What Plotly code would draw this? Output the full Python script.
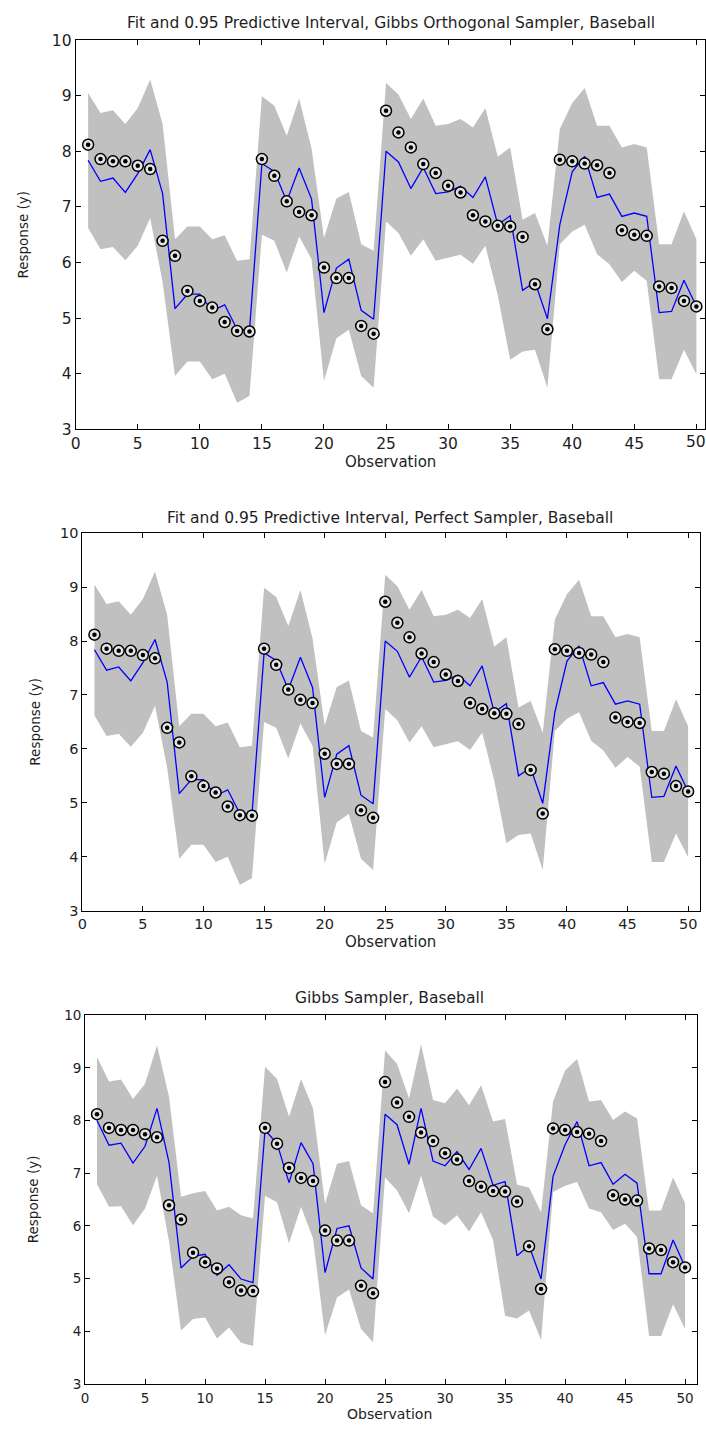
import plotly.graph_objects as go

W, H = 706, 1432

obs = list(range(1, 51))

# observed baseball responses (same data in every panel)
response = [8.12, 7.86, 7.82, 7.82, 7.74, 7.68, 6.39, 6.12, 5.49, 5.31,
            5.19, 4.93, 4.77, 4.76, 7.86, 7.56, 7.10, 6.91, 6.85, 5.91,
            5.72, 5.72, 4.86, 4.72, 8.73, 8.34, 8.07, 7.77, 7.61, 7.38,
            7.26, 6.85, 6.74, 6.66, 6.65, 6.46, 5.61, 4.80, 7.85, 7.82,
            7.78, 7.75, 7.61, 6.58, 6.50, 6.48, 5.57, 5.54, 5.31, 5.21]

# fitted values and 0.95 predictive limits, orthogonal / perfect samplers
fit_orth = [7.84, 7.46, 7.52, 7.26, 7.60, 8.03, 7.24, 5.17, 5.43, 5.43,
            5.13, 5.24, 4.80, 4.78, 7.78, 7.64, 7.10, 7.70, 7.14, 5.10,
            5.90, 6.06, 5.14, 4.98, 8.00, 7.81, 7.33, 7.71, 7.24, 7.27,
            7.37, 7.17, 7.54, 6.68, 6.84, 5.50, 5.65, 4.99, 6.68, 7.63,
            7.91, 7.17, 7.23, 6.83, 6.89, 6.83, 5.10, 5.12, 5.68, 5.21]
upper_orth = [9.05, 8.69, 8.74, 8.49, 8.78, 9.29, 8.49, 6.42, 6.65, 6.65,
              6.42, 6.49, 6.03, 6.06, 8.99, 8.82, 8.28, 8.95, 8.05, 6.44,
              7.15, 7.27, 6.33, 6.21, 9.23, 9.02, 8.58, 8.95, 8.46, 8.49,
              8.58, 8.43, 8.78, 7.90, 8.07, 6.77, 6.89, 6.30, 8.40, 8.87,
              9.14, 8.46, 8.46, 8.07, 8.13, 8.07, 6.33, 6.33, 6.92, 6.42]
lower_orth = [6.62, 6.24, 6.28, 6.04, 6.30, 6.80, 5.65, 3.96, 4.22, 4.22,
              3.90, 4.00, 3.48, 3.60, 6.50, 6.39, 5.82, 6.47, 6.06, 3.87,
              4.64, 4.79, 3.96, 3.75, 6.74, 6.53, 6.12, 6.42, 6.03, 6.08,
              6.14, 5.98, 6.30, 5.41, 4.25, 4.40, 4.43, 3.75, 6.33, 6.56,
              6.68, 6.15, 5.97, 5.65, 5.85, 5.67, 3.90, 3.90, 4.43, 3.99]

# fitted values and 0.95 predictive limits, Gibbs sampler
fit_gibbs = [8.00, 7.53, 7.57, 7.19, 7.51, 8.23, 7.20, 5.20, 5.42, 5.46,
             5.06, 5.26, 4.99, 4.92, 7.82, 7.56, 6.82, 7.58, 7.18, 5.11,
             5.95, 6.00, 5.20, 4.99, 8.12, 7.92, 7.17, 8.23, 7.23, 7.14,
             7.41, 7.07, 7.47, 6.77, 6.84, 5.43, 5.62, 4.99, 6.94, 7.54,
             7.98, 7.14, 7.20, 6.79, 6.98, 6.81, 5.09, 5.09, 5.73, 5.22]
upper_gibbs = [9.20, 8.74, 8.78, 8.41, 8.70, 9.43, 8.45, 6.55, 6.62, 6.66,
               6.29, 6.36, 6.20, 6.14, 9.02, 8.79, 8.07, 8.79, 8.23, 6.42,
               7.18, 7.23, 6.39, 6.24, 9.33, 9.08, 8.42, 9.45, 8.39, 8.33,
               8.61, 8.29, 8.67, 7.98, 8.03, 6.78, 6.73, 6.26, 8.36, 8.95,
               9.17, 8.36, 8.39, 8.01, 8.17, 8.04, 6.29, 6.29, 6.92, 6.43]
lower_gibbs = [6.79, 6.36, 6.37, 6.01, 6.33, 6.95, 5.70, 4.01, 4.23, 4.26,
               3.86, 4.07, 3.78, 3.72, 6.57, 6.45, 5.67, 6.36, 5.76, 3.92,
               4.64, 4.79, 4.04, 3.79, 6.92, 6.67, 6.24, 6.95, 6.17, 6.01,
               6.20, 5.89, 6.26, 5.73, 4.29, 4.24, 4.39, 3.83, 6.64, 6.76,
               6.83, 6.33, 6.26, 5.92, 6.04, 5.79, 3.91, 3.91, 4.51, 4.04]

titles = ["Fit and 0.95 Predictive Interval, Gibbs Orthogonal Sampler, Baseball",
          "Fit and 0.95 Predictive Interval, Perfect Sampler, Baseball",
          "Gibbs Sampler, Baseball"]
x_ticks = [0, 5, 10, 15, 20, 25, 30, 35, 40, 45, 50]
y_ticks = [3, 4, 5, 6, 7, 8, 9, 10]

BAND = "#c0c0c0"
FIT = "#0000ff"
FONT = "DejaVu Sans"
TXT = "#1e1e1e"

# pixel geometry of each axes box: left, right, top, bottom, x range max
panels = [
    dict(left=71.3, right=706.0, top=31.5, bottom=425.7, xmax=(706.0 - 71.3) / 12.52,
         fit=fit_orth, up=upper_orth, lo=lower_orth,
         title_y=14, xlab_y=459, ylab_x=18, tick_font=15.5, standoff=0, xlab_font=15),
    dict(left=78.0, right=701.2, top=531.0, bottom=913.0, xmax=51,
         fit=fit_orth, up=upper_orth, lo=lower_orth,
         title_y=515, xlab_y=945, ylab_x=30, tick_font=14.5, standoff=0, xlab_font=15),
    dict(left=80.7, right=698.0, top=1019.0, bottom=1392.3, xmax=51,
         fit=fit_gibbs, up=upper_gibbs, lo=lower_gibbs,
         title_y=1002, xlab_y=1423, ylab_x=29, tick_font=13.5, standoff=2, xlab_font=14),
]

fig = go.Figure()
layout = dict(width=W, height=H, margin=dict(l=0, r=0, t=0, b=0),
              paper_bgcolor="white", plot_bgcolor="white", showlegend=False,
              annotations=[])

for i, p in enumerate(panels, start=1):
    xa = "x" if i == 1 else f"x{i}"
    ya = "y" if i == 1 else f"y{i}"
    # predictive band
    fig.add_trace(go.Scatter(x=obs, y=p["up"], mode="lines", line=dict(width=0),
                             hoverinfo="skip", xaxis=xa, yaxis=ya))
    fig.add_trace(go.Scatter(x=obs, y=p["lo"], mode="lines", line=dict(width=0),
                             fill="tonexty", fillcolor=BAND,
                             xaxis=xa, yaxis=ya))
    # fitted curve
    fig.add_trace(go.Scatter(x=obs, y=p["fit"], mode="lines",
                             line=dict(color=FIT, width=1.3), xaxis=xa, yaxis=ya))
    # observed points: ring plus centre dot
    fig.add_trace(go.Scatter(x=obs, y=response, mode="markers",
                             marker=dict(symbol="circle", size=11, color="#e4e4e4",
                                         line=dict(color="black", width=1.5)),
                             xaxis=xa, yaxis=ya))
    fig.add_trace(go.Scatter(x=obs, y=response, mode="markers",
                             marker=dict(symbol="circle", size=4.5, color="black"),
                             xaxis=xa, yaxis=ya))

    axis_common = dict(showline=True, linecolor="black", linewidth=1, mirror="ticks",
                       ticks="inside", ticklen=5, tickcolor="black", tickwidth=1,
                       showgrid=False, zeroline=False,
                       tickfont=dict(family=FONT, size=p["tick_font"], color=TXT))
    xkey = "xaxis" if i == 1 else f"xaxis{i}"
    ykey = "yaxis" if i == 1 else f"yaxis{i}"
    layout[xkey] = dict(axis_common, domain=[p["left"] / W, min(p["right"] / W, 1.0)],
                        range=[0, p["xmax"]], tickvals=x_ticks, anchor=ya,
                        ticklabelstandoff=p["standoff"])
    layout[ykey] = dict(axis_common, domain=[1 - p["bottom"] / H, 1 - p["top"] / H],
                        range=[3, 10], tickvals=y_ticks, anchor=xa)

    xc = (p["left"] + 25.4 * (min(p["right"], W) - p["left"]) / p["xmax"]) / W
    layout["annotations"] += [
        dict(text=titles[i - 1], x=xc, y=1 - p["title_y"] / H, xref="paper", yref="paper",
             xanchor="center", yanchor="middle", showarrow=False,
             font=dict(family=FONT, size=15.5, color=TXT)),
        dict(text="Observation", x=xc, y=1 - p["xlab_y"] / H, xref="paper", yref="paper",
             xanchor="center", yanchor="middle", showarrow=False, borderpad=0,
             font=dict(family=FONT, size=p["xlab_font"], color=TXT)),
        dict(text="Response (y)", x=p["ylab_x"] / W,
             y=1 - (p["top"] + p["bottom"]) / 2 / H, xref="paper", yref="paper",
             xanchor="center", yanchor="middle", textangle=-90, showarrow=False,
             font=dict(family=FONT, size=13.5, color=TXT)),
    ]

# the top panel's box runs past the page edge, so its last tick label is set by hand
layout["annotations"].append(
    dict(text="50", x=50, xref="x", y=1 - 439 / H, yref="paper",
         xanchor="center", yanchor="middle", showarrow=False,
         font=dict(family=FONT, size=15.5, color=TXT)))

fig.update_layout(**layout)
fig.write_html("out.html")
